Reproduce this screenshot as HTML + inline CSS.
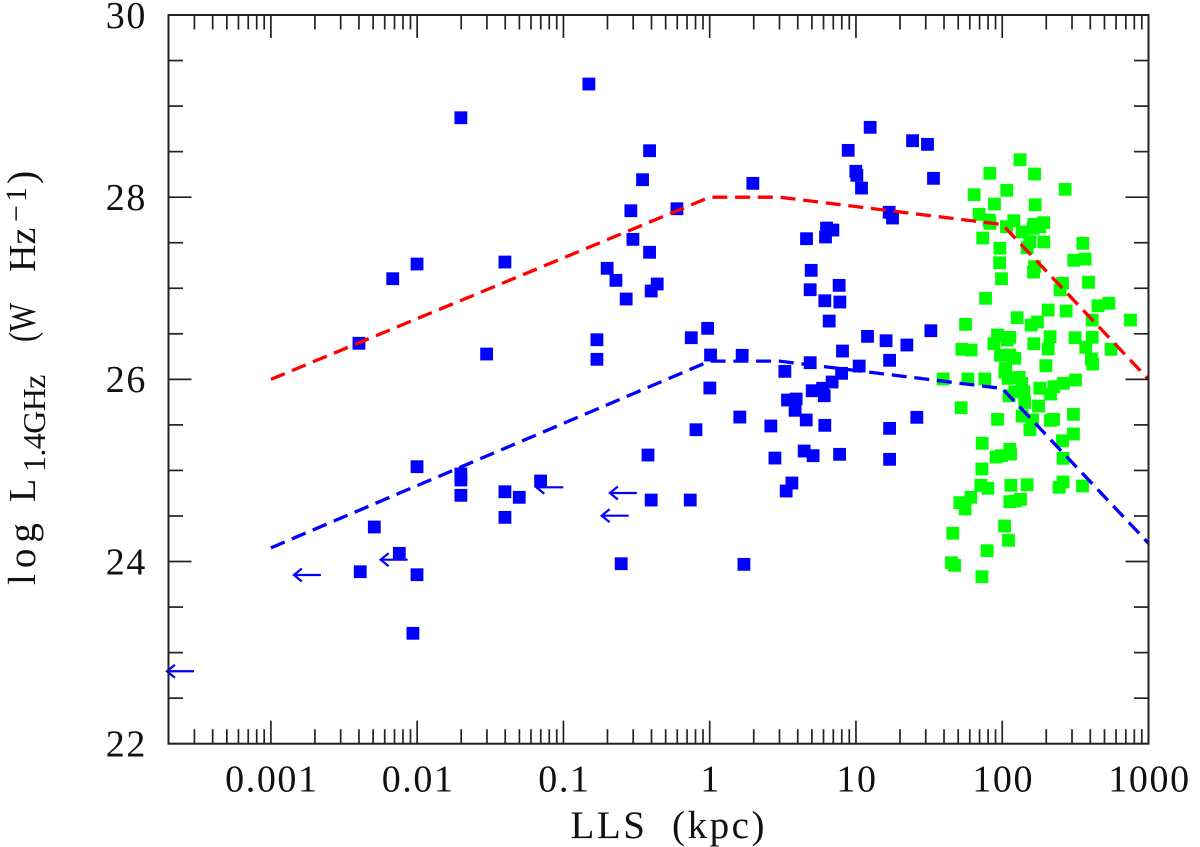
<!DOCTYPE html>
<html lang="en">
<head>
<meta charset="utf-8">
<title>Radio luminosity vs linear size</title>
<style>
html,body{margin:0;padding:0;background:#fff;}
svg{display:block;}
text{font-family:"Liberation Serif",serif;fill:#111;}
</style>
</head>
<body>
<svg id="chart" xmlns="http://www.w3.org/2000/svg" width="1200" height="847" viewBox="0 0 1200 847">
  <rect x="0" y="0" width="1200" height="847" fill="#ffffff"/>
  <g id="blue-points"></g>
  <g id="green-points"></g>
  <g id="limits"></g>
  <g id="tracks"></g>
  <g id="axes"></g>
  <g>
    <text transform="translate(35,585) rotate(-90)" font-size="39" letter-spacing="6">log</text>
    <text transform="translate(35,502) rotate(-90)" font-size="38">L</text>
    <text transform="translate(45,472) rotate(-90)" font-size="32" letter-spacing="-0.6">1.4GHz</text>
    <text transform="translate(35,342) rotate(-90)" font-size="38" textLength="39" lengthAdjust="spacingAndGlyphs">(W</text>
    <text transform="translate(35,272) rotate(-90)" font-size="38">Hz</text>
    <text transform="translate(26,222) rotate(-90)" font-size="30" letter-spacing="3">−1</text>
    <text transform="translate(35,184) rotate(-90)" font-size="40">)</text>
  </g>
  <text x="570.5" y="838" font-size="39" textLength="194" lengthAdjust="spacing">LLS&#160;&#160;(kpc)</text>
</svg>
<script>
// log10 of LLS (kpc) and log10 of L1.4GHz
const blueLogLLS = [-2.398,-2.389,-2.293,-2.167,-2.122,-2.029,-2.001,-2.001,-2.001,-1.701,-1.701,-1.701,-1.701,-1.525,-1.400,-1.400,-1.400,-1.302,-1.156,-0.826,-0.771,-0.771,-0.701,-0.641,-0.571,-0.539,-0.525,-0.459,-0.411,-0.411,-0.400,-0.359,-0.224,-0.605,-0.422,-0.400,-0.133,-0.126,-0.094,-0.014,0.006,0.001,0.206,0.222,0.234,0.295,0.418,0.446,0.514,0.523,0.532,0.562,0.584,0.591,0.646,0.660,0.662,0.687,0.687,0.694,0.701,0.707,0.772,0.783,0.787,0.787,0.792,0.799,0.817,0.837,0.842,0.885,0.888,0.890,0.902,0.908,0.947,0.999,1.006,1.022,1.038,1.079,1.097,1.206,1.227,1.230,1.230,1.230,1.250,1.348,1.387,1.416,1.489,1.512,1.530];
const blueLogL = [26.396,23.888,24.379,27.105,24.090,23.212,27.266,25.041,23.855,28.872,24.961,24.895,24.727,26.278,27.288,24.766,24.485,24.705,24.884,29.242,26.435,26.220,27.219,27.087,26.882,27.851,27.537,28.192,28.510,27.395,26.970,27.047,27.873,23.976,25.169,24.675,24.675,26.457,25.447,26.560,26.267,25.905,25.586,26.264,23.969,28.152,25.488,25.136,26.088,24.774,25.773,24.862,25.660,25.784,25.213,25.554,27.544,26.984,26.183,27.197,25.875,25.162,25.902,25.820,26.863,25.495,27.563,27.661,26.640,25.971,27.639,27.032,25.177,26.849,26.066,26.311,28.514,28.284,28.240,26.146,28.100,26.472,28.767,26.424,27.834,26.209,25.462,25.122,27.771,26.377,28.620,25.583,28.580,26.534,28.207];
const greenLogLLS = [2.122,1.915,2.221,2.430,2.031,1.808,1.947,2.225,1.842,1.910,1.917,2.079,2.029,2.136,2.216,2.284,2.257,2.211,1.867,2.189,2.284,2.170,2.551,1.984,1.982,2.489,2.567,2.221,2.214,1.995,2.412,2.590,2.396,1.886,2.655,2.729,2.314,2.437,2.102,1.749,2.241,2.198,2.615,2.877,1.968,2.052,2.034,1.943,2.327,2.498,2.615,1.724,1.787,2.216,2.314,2.571,2.744,1.988,2.052,2.086,2.610,2.298,2.619,2.023,1.596,1.765,1.881,2.040,2.115,2.134,2.257,2.353,2.419,2.501,2.330,2.086,2.148,2.047,2.154,2.248,1.719,1.968,2.136,2.207,2.351,2.330,2.487,2.189,2.487,2.412,1.863,2.052,2.057,1.995,1.958,2.416,1.861,1.854,1.902,2.059,2.170,2.416,2.389,2.549,1.785,1.710,1.746,2.052,2.125,2.091,2.016,1.662,2.043,1.897,1.653,1.674,1.861,2.018];
const greenLogL = [28.411,28.262,28.254,28.086,28.075,28.027,27.925,27.917,27.812,27.749,27.713,27.742,27.676,27.618,27.702,27.720,27.676,27.658,27.552,27.511,27.508,27.445,27.493,27.439,27.280,27.307,27.321,27.237,27.178,27.105,27.054,27.065,26.981,26.890,26.808,26.835,26.761,26.750,26.677,26.604,26.629,26.596,26.651,26.651,26.487,26.461,26.432,26.391,26.468,26.457,26.461,26.330,26.322,26.391,26.333,26.352,26.330,26.264,26.267,26.231,26.223,26.150,26.168,26.121,26.004,26.004,26.004,26.011,26.022,25.956,25.902,25.919,25.956,25.993,25.839,25.864,25.864,25.820,25.744,25.707,25.689,25.561,25.597,25.554,25.561,25.550,25.616,25.447,25.400,25.326,25.298,25.232,25.180,25.162,25.147,25.133,25.016,24.837,24.804,24.837,24.843,24.873,24.815,24.829,24.705,24.646,24.577,24.657,24.683,24.664,24.390,24.310,24.233,24.119,23.987,23.958,23.833,26.080];
const limitLogLLS = [-3.526,-2.658,-2.065,-1.001,-0.554,-0.498];
const limitLogL = [22.795,23.852,24.020,24.815,24.503,24.752];
const redTrackLogLLS = [-3,0,0.477,2,3];
const redTrackLogL = [26,28,28,27.7,26];
const blueTrackLogLLS = [-3,0,0.477,2,3];
const blueTrackLogL = [24.15,26.2,26.2,25.9,24.2];
const xTickLabels = ["0.001","0.01","0.1","1","10","100","1000"];
const xTickLogs = [-3,-2,-1,0,1,2,3];
const yTickLabels = [22,24,26,28,30];
const yMinorValues = [22.5,23,23.5,24.5,25,25.5,26.5,27,27.5,28.5,29,29.5];

const NS = "http://www.w3.org/2000/svg";
const X_MIN = -3.7, X_MAX = 3, Y_MIN = 22, Y_MAX = 30;
const LEFT = 168.5, RIGHT = 1148.5, TOP = 15, BOTTOM = 743.7;
function xAxis(v){ return LEFT + (v - X_MIN) / (X_MAX - X_MIN) * (RIGHT - LEFT); }
function yAxis(v){ return BOTTOM - (v - Y_MIN) / (Y_MAX - Y_MIN) * (BOTTOM - TOP); }
function make(tag, parent, props){
  const el = document.createElementNS(NS, tag);
  for (const k in props) el.setAttribute(k, props[k]);
  parent.appendChild(el);
  return el;
}
const S = 12.8;
const bluePts = document.getElementById("blue-points");
blueLogLLS.forEach(function(v, i){
  const el = make("rect", bluePts, {x: xAxis(v) - S/2, y: yAxis(blueLogL[i]) - S/2, width: S, height: S, fill: "#0000ff"});
  
  
});
const greenPts = document.getElementById("green-points");
greenLogLLS.forEach(function(v, i){
  const el = make("rect", greenPts, {x: xAxis(v) - S/2, y: yAxis(greenLogL[i]) - S/2, width: S, height: S, fill: "#00ff00"});
  
  
});
const limits = document.getElementById("limits");
limitLogLLS.forEach(function(v, i){
  const x = xAxis(v), y = yAxis(limitLogL[i]), tip = x - 27;
  const d = "M" + x + " " + y + "H" + tip + "M" + (tip + 8) + " " + (y - 6.5) + "L" + tip + " " + y + "L" + (tip + 8) + " " + (y + 6.5);
  const el = make("path", limits, {d: d, fill: "none", stroke: "#0000ff", "stroke-width": 2.2});
  
  
});
const tracks = document.getElementById("tracks");
function track(xs, ys, color){
  const pts = xs.map(function(v, i){ return xAxis(v) + "," + yAxis(ys[i]); }).join(" ");
  return make("polyline", tracks, {points: pts, fill: "none", stroke: color, "stroke-width": 3.3, "stroke-dasharray": "15 7.75", "stroke-linejoin": "round"});
}
const redLine = track(redTrackLogLLS, redTrackLogL, "#ff0000");


const blueLine = track(blueTrackLogLLS, blueTrackLogL, "#0000ff");



const axes = document.getElementById("axes");
const frame = make("rect", axes, {x: LEFT, y: TOP, width: RIGHT - LEFT, height: BOTTOM - TOP, fill: "none", stroke: "#222", "stroke-width": 2});


function tick(x1, y1, x2, y2, name){
  const el = make("line", axes, {x1: x1, y1: y1, x2: x2, y2: y2, stroke: "#222", "stroke-width": 1.7});
  
  
}
const MAJOR = 23, MINOR = 14.5;
for (let d = -4; d < 3; d++) {
  for (let m = 2; m < 10; m++) {
    const lg = d + Math.log10(m);
    if (lg < X_MIN + 0.005) continue;
    const x = xAxis(lg);
    tick(x, BOTTOM, x, BOTTOM - MINOR, 'x-minor-tick');
    tick(x, TOP, x, TOP + MINOR, 'x-minor-tick-top');
  }
}
xTickLogs.forEach(function(v, i){
  const x = xAxis(v);
  tick(x, BOTTOM, x, BOTTOM - MAJOR, 'x-major-tick');
  tick(x, TOP, x, TOP + MAJOR, 'x-major-tick-top');
  const t = make("text", axes, {x: x + 1, y: 791.5, "font-size": 38, "text-anchor": "middle", "letter-spacing": 1.6});
  t.textContent = xTickLabels[i];
  
  
});
yMinorValues.forEach(function(v){
  const y = yAxis(v);
  tick(LEFT, y, LEFT + MINOR, y, 'y-minor-tick');
  tick(RIGHT, y, RIGHT - MINOR, y, 'y-minor-tick-right');
});
yTickLabels.forEach(function(v){
  const y = yAxis(v);
  tick(LEFT, y, LEFT + MAJOR, y, 'y-major-tick');
  tick(RIGHT, y, RIGHT - MAJOR, y, 'y-major-tick-right');
  const t = make("text", axes, {x: 147, y: y + 12.8, "font-size": 38, "text-anchor": "end", "letter-spacing": 1.6});
  t.textContent = String(v);
  
  
});
</script>
</body>
</html>
